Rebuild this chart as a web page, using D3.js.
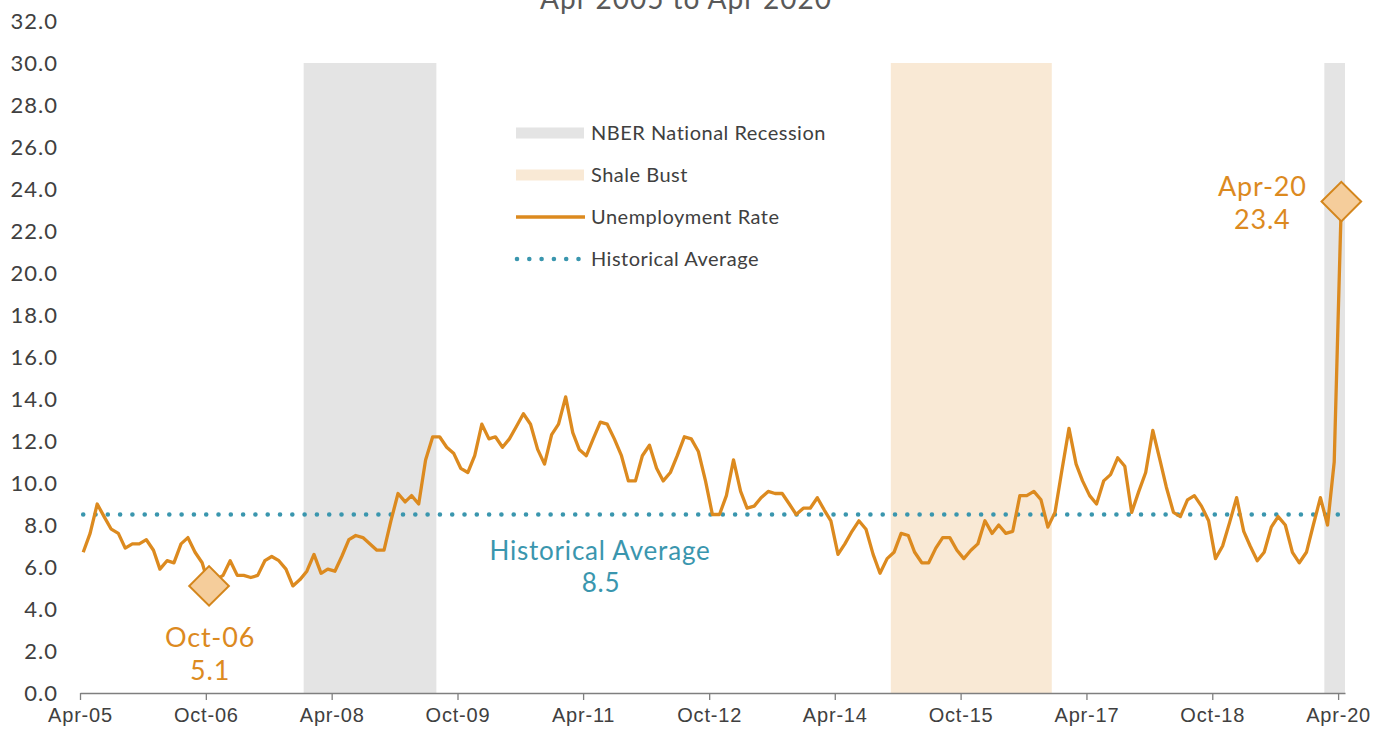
<!DOCTYPE html>
<html>
<head>
<meta charset="utf-8">
<title>Unemployment Rate</title>
<script src="https://cdn.jsdelivr.net/npm/d3@7"></script>
<style>
body { margin: 0; background: #fff; font-family: Lato, "Open Sans", sans-serif; }
.axis text { fill: #404040; }
</style>
</head>
<body>
<script>
// monthly unemployment rate, Apr-05 .. Apr-20
var firstMonth = "Apr-05";
var rate = [
    6.7, 7.6, 9.0, 8.4, 7.8, 7.6, 6.9, 7.1, 7.1, 7.3, 6.8, 5.9,
    6.3, 6.2, 7.1, 7.4, 6.7, 6.2, 5.1, 5.4, 5.6, 6.3, 5.6, 5.6,
    5.5, 5.6, 6.3, 6.5, 6.3, 5.9, 5.1, 5.4, 5.8, 6.6, 5.7, 5.9,
    5.8, 6.5, 7.3, 7.5, 7.4, 7.1, 6.8, 6.8, 8.2, 9.5, 9.1, 9.4,
    9.0, 11.1, 12.2, 12.2, 11.7, 11.4, 10.7, 10.5, 11.3, 12.8, 12.1, 12.2,
    11.7, 12.1, 12.7, 13.3, 12.8, 11.6, 10.9, 12.3, 12.8, 14.1, 12.4, 11.6,
    11.3, 12.1, 12.9, 12.8, 12.1, 11.3, 10.1, 10.1, 11.3, 11.8, 10.7, 10.1,
    10.5, 11.3, 12.2, 12.1, 11.5, 10.1, 8.5, 8.5, 9.4, 11.1, 9.6, 8.8,
    8.9, 9.3, 9.6, 9.5, 9.5, 9.0, 8.5, 8.8, 8.8, 9.3, 8.7, 8.2,
    6.6, 7.1, 7.7, 8.2, 7.8, 6.6, 5.7, 6.4, 6.7, 7.6, 7.5, 6.7,
    6.2, 6.2, 6.9, 7.4, 7.4, 6.8, 6.4, 6.8, 7.1, 8.2, 7.6, 8.0,
    7.6, 7.7, 9.4, 9.4, 9.6, 9.2, 7.9, 8.6, 10.6, 12.6, 10.9, 10.1,
    9.4, 9.0, 10.1, 10.4, 11.2, 10.8, 8.6, 9.6, 10.5, 12.5, 11.1, 9.8,
    8.6, 8.4, 9.2, 9.4, 8.9, 8.2, 6.4, 7.0, 8.1, 9.3, 7.7, 7.0,
    6.3, 6.7, 7.9, 8.4, 8.0, 6.7, 6.2, 6.7, 8.0, 9.3, 8.0, 11.0,
    23.4
];
var historicalAverage = 8.5;

var xTickLabels = ["Apr-05", "Oct-06", "Apr-08", "Oct-09", "Apr-11", "Oct-12",
                   "Apr-14", "Oct-15", "Apr-17", "Oct-18", "Apr-20"];
var yTickValues = [0, 2, 4, 6, 8, 10, 12, 14, 16, 18, 20, 22, 24, 26, 28, 30, 32];

// shaded periods, first and last month inclusive
var recessions = [["Dec-07", "Jun-09"], ["Feb-20", "Apr-20"]];
var shaleBust = [["Dec-14", "Oct-16"]];

var callouts = [
    {month: "Oct-06", value: 5.1, side: "below"},
    {month: "Apr-20", value: 23.4, side: "left"}
];

var legendItems = ["NBER National Recession", "Shale Bust", "Unemployment Rate", "Historical Average"];

var orange = "#dc8a1f",
    teal = "#3a96ae",
    gray = "#e4e4e4",
    tan = "#f9e9d5";

var width = 1389, height = 739;
var parseMonth = d3.timeParse("%b-%y");
var fmtMonth = d3.timeFormat("%b-%y");

var start = parseMonth(firstMonth);
var series = rate.map(function(v, i) {
    return {month: d3.timeMonth.offset(start, i), value: v};
});
var lastMonth = series[series.length - 1].month;

// points sit mid-month
function mid(m) { return d3.timeDay.offset(m, 14); }

var x = d3.scaleTime()
    .domain([start, d3.timeMonth.offset(lastMonth, 1)])
    .range([80, 1345]);

var y = d3.scaleLinear()
    .domain([0, 32])
    .range([693, 21]);

var svg = d3.select("body").append("svg")
    .attr("width", width)
    .attr("height", height);

// title (cut at top in the original)
svg.append("text")
    .attr("x", 686)
    .attr("y", 9)
    .attr("text-anchor", "middle")
    .style("font-size", "28px")
    .style("letter-spacing", "1px")
    .style("fill", "#595959")
    .text("Apr 2005 to Apr 2020");

function drawBands(list, color) {
    svg.append("g").selectAll("rect")
        .data(list)
        .enter().append("rect")
        .attr("x", function(d) { return x(parseMonth(d[0])); })
        .attr("width", function(d) {
            return x(d3.timeMonth.offset(parseMonth(d[1]), 1)) - x(parseMonth(d[0]));
        })
        .attr("y", y(30))
        .attr("height", y(0) - y(30))
        .style("fill", color);
}
drawBands(recessions, gray);
drawBands(shaleBust, tan);

// y axis
var yAxis = svg.append("g")
    .attr("class", "axis")
    .attr("transform", "translate(58,0)")
    .call(d3.axisLeft(y).tickValues(yTickValues).tickFormat(d3.format(".1f")).tickSize(0).tickPadding(0));
yAxis.select(".domain").remove();
yAxis.selectAll("text")
    .style("font-size", "22px")
    .style("letter-spacing", "1px")
    .style("font-family", "Lato, sans-serif");

// x axis
var xAxis = svg.append("g")
    .attr("class", "axis")
    .attr("transform", "translate(0," + y(0) + ")")
    .call(d3.axisBottom(x)
        .tickValues(xTickLabels.map(parseMonth))
        .tickFormat(fmtMonth)
        .tickSize(7)
        .tickSizeOuter(0)
        .tickPadding(8));
xAxis.select(".domain").style("stroke", "#7f7f7f").style("stroke-width", 1.3);
xAxis.selectAll(".tick line").style("stroke", "#7f7f7f").style("stroke-width", 1.3);
xAxis.selectAll("text")
    .style("font-size", "20px")
    .style("letter-spacing", "0.8px");

// historical average
svg.append("line")
    .attr("x1", x(mid(start)))
    .attr("x2", x(mid(lastMonth)))
    .attr("y1", y(historicalAverage))
    .attr("y2", y(historicalAverage))
    .style("stroke", teal)
    .style("stroke-width", 4.6)
    .style("stroke-linecap", "round")
    .style("stroke-dasharray", "0 12.3");

// unemployment line
var line = d3.line()
    .x(function(d) { return x(mid(d.month)); })
    .y(function(d) { return y(d.value); });

svg.append("path")
    .datum(series)
    .attr("d", line)
    .style("fill", "none")
    .style("stroke", orange)
    .style("stroke-width", 3.3)
    .style("stroke-linejoin", "round");

// callout diamonds and labels
callouts.forEach(function(c) {
    var cx = x(mid(parseMonth(c.month))), cy = y(c.value);
    svg.append("rect")
        .attr("x", -14).attr("y", -14)
        .attr("width", 28).attr("height", 28)
        .attr("transform", "translate(" + cx + "," + cy + ") rotate(45)")
        .style("fill", "#f5cd9b")
        .style("stroke", "#d4861c")
        .style("stroke-width", 2);
    var tx, ty;
    if (c.side === "below") { tx = cx + 1; ty = cy + 61; }
    else { tx = cx - 79; ty = cy - 6; }
    var t = svg.append("text")
        .attr("x", tx).attr("y", ty)
        .attr("text-anchor", "middle")
        .style("font-size", "27px")
        .style("letter-spacing", "0.8px")
        .style("fill", orange);
    t.append("tspan").attr("x", tx).text(c.month);
    t.append("tspan").attr("x", tx).attr("dy", 33).text(c.value.toFixed(1));
});

// historical average label
var ha = svg.append("text")
    .attr("x", 600).attr("y", y(historicalAverage) + 45)
    .attr("text-anchor", "middle")
    .style("font-size", "26px")
    .style("letter-spacing", "0.8px")
    .style("fill", teal);
ha.append("tspan").attr("x", 600).text("Historical Average");
ha.append("tspan").attr("x", 601).attr("dy", 32).text(historicalAverage.toFixed(1));

// legend
var legend = svg.selectAll(".legend")
    .data(legendItems)
    .enter().append("g")
    .attr("class", "legend")
    .attr("transform", function(d, i) { return "translate(516," + (133 + i * 42) + ")"; });

legend.each(function(d, i) {
    var g = d3.select(this);
    if (i < 2) {
        g.append("rect")
            .attr("x", 0).attr("y", -5.5)
            .attr("width", 68).attr("height", 11)
            .style("fill", i === 0 ? gray : tan);
    } else if (i === 2) {
        g.append("line")
            .attr("x1", 0).attr("x2", 69)
            .style("stroke", orange).style("stroke-width", 3.3);
    } else {
        g.append("line")
            .attr("x1", 1).attr("x2", 63)
            .style("stroke", teal).style("stroke-width", 4.6)
            .style("stroke-linecap", "round")
            .style("stroke-dasharray", "0 12.3");
    }
    g.append("text")
        .attr("x", 75)
        .attr("y", 0)
        .attr("dy", "0.36em")
        .style("font-size", "20px")
        .style("letter-spacing", "0.5px")
        .style("fill", "#404040")
        .text(d);
});
</script>
</body>
</html>
